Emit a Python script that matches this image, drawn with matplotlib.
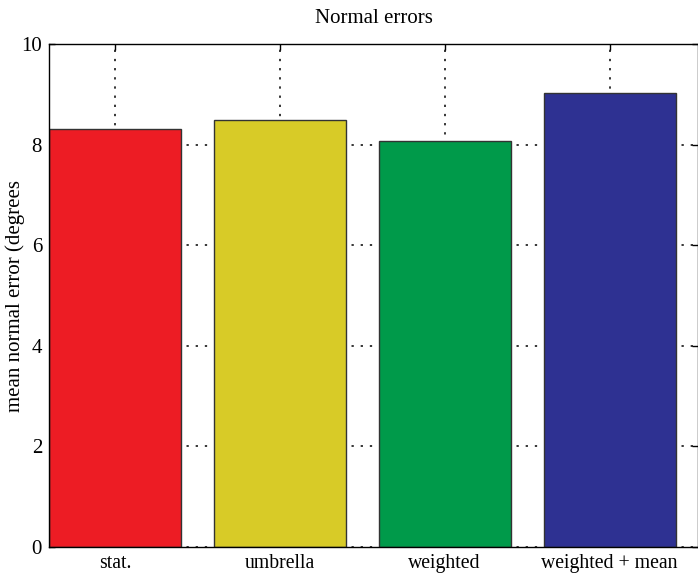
import matplotlib
matplotlib.use("Agg")
import matplotlib.pyplot as plt

categories = ["stat.", "umbrella", "weighted", "weighted + mean"]
mean_errors = [8.31, 8.48, 8.08, 9.02]
bar_colors = ["#ED1C24", "#D8CB27", "#009A4A", "#2E3192"]
y_ticks = [0, 2, 4, 6, 8, 10]

plt.rcParams["font.family"] = ["Liberation Serif", "DejaVu Serif"]

fig = plt.figure(figsize=(6.98, 5.74), dpi=100)
ax = fig.add_axes([49 / 698, 1 - 547 / 574, (698 - 49) / 698, (547 - 44) / 574])

x = list(range(1, len(categories) + 1))
ax.bar(x, mean_errors, width=0.8, color=bar_colors, edgecolor="#333333",
       linewidth=1.0, zorder=3)

ax.set_xlim(0.6, 4.536)
ax.set_ylim(0, 10)
ax.set_xticks(x)
ax.set_xticklabels(categories)
ax.set_yticks(y_ticks)

ax.grid(True, color="black", linestyle=(0, (1.5, 4.5)), linewidth=1.1, zorder=1)
ax.set_axisbelow(True)

ax.tick_params(direction="in", length=4, width=1,
               top=True, right=True, colors="black")
ax.tick_params(axis="y", pad=5, labelsize=15)
ax.tick_params(axis="x", pad=5, labelsize=14.2)
for side in ax.spines.values():
    side.set_linewidth(1.0)
    side.set_color("black")
    side.set_zorder(4)

ax.set_title("Normal errors", fontsize=15, pad=15)
ax.set_ylabel("mean normal error (degrees", fontsize=15)
ax.yaxis.set_label_coords(-0.052, 0.5)
ax.yaxis.label.set_va("center")

fig.savefig("out.png", dpi=100)
